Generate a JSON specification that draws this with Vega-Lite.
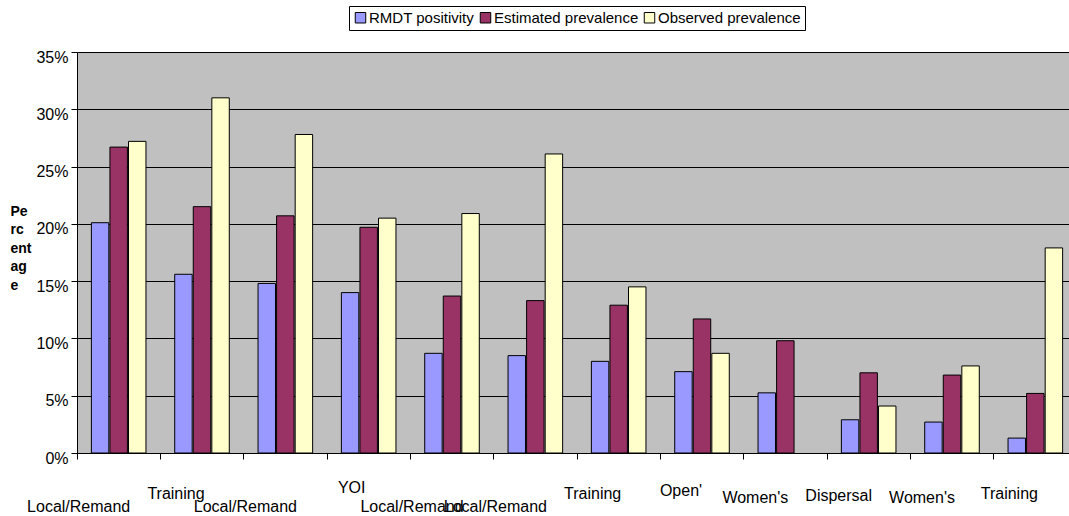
{
  "$schema": "https://vega.github.io/schema/vega-lite/v6.json",
  "width": 992,
  "height": 401,
  "autosize": {"type": "none"},
  "padding": {"left": 77, "top": 52, "right": 0, "bottom": 63},
  "background": "white",
  "config": {
    "font": "Liberation Sans",
    "view": {"fill": "#C0C0C0", "stroke": null}
  },
  "data": {
    "values": [
      {"site": "01 Local/Remand", "measure": "RMDT positivity", "value": 0.201},
      {"site": "01 Local/Remand", "measure": "Estimated prevalence", "value": 0.267},
      {"site": "01 Local/Remand", "measure": "Observed prevalence", "value": 0.272},
      {"site": "02 Training", "measure": "RMDT positivity", "value": 0.156},
      {"site": "02 Training", "measure": "Estimated prevalence", "value": 0.215},
      {"site": "02 Training", "measure": "Observed prevalence", "value": 0.31},
      {"site": "03 Local/Remand", "measure": "RMDT positivity", "value": 0.148},
      {"site": "03 Local/Remand", "measure": "Estimated prevalence", "value": 0.207},
      {"site": "03 Local/Remand", "measure": "Observed prevalence", "value": 0.278},
      {"site": "04 YOI", "measure": "RMDT positivity", "value": 0.14},
      {"site": "04 YOI", "measure": "Estimated prevalence", "value": 0.197},
      {"site": "04 YOI", "measure": "Observed prevalence", "value": 0.205},
      {"site": "05 Local/Remand", "measure": "RMDT positivity", "value": 0.087},
      {"site": "05 Local/Remand", "measure": "Estimated prevalence", "value": 0.137},
      {"site": "05 Local/Remand", "measure": "Observed prevalence", "value": 0.209},
      {"site": "06 Local/Remand", "measure": "RMDT positivity", "value": 0.085},
      {"site": "06 Local/Remand", "measure": "Estimated prevalence", "value": 0.133},
      {"site": "06 Local/Remand", "measure": "Observed prevalence", "value": 0.261},
      {"site": "07 Training", "measure": "RMDT positivity", "value": 0.08},
      {"site": "07 Training", "measure": "Estimated prevalence", "value": 0.129},
      {"site": "07 Training", "measure": "Observed prevalence", "value": 0.145},
      {"site": "08 Open'", "measure": "RMDT positivity", "value": 0.071},
      {"site": "08 Open'", "measure": "Estimated prevalence", "value": 0.117},
      {"site": "08 Open'", "measure": "Observed prevalence", "value": 0.087},
      {"site": "09 Women's", "measure": "RMDT positivity", "value": 0.0525},
      {"site": "09 Women's", "measure": "Estimated prevalence", "value": 0.098},
      {"site": "10 Dispersal", "measure": "RMDT positivity", "value": 0.029},
      {"site": "10 Dispersal", "measure": "Estimated prevalence", "value": 0.07},
      {"site": "10 Dispersal", "measure": "Observed prevalence", "value": 0.041},
      {"site": "11 Women's", "measure": "RMDT positivity", "value": 0.027},
      {"site": "11 Women's", "measure": "Estimated prevalence", "value": 0.068},
      {"site": "11 Women's", "measure": "Observed prevalence", "value": 0.076},
      {"site": "12 Training", "measure": "RMDT positivity", "value": 0.013},
      {"site": "12 Training", "measure": "Estimated prevalence", "value": 0.052},
      {"site": "12 Training", "measure": "Observed prevalence", "value": 0.179}
    ]
  },
  "mark": {"type": "bar", "stroke": "black", "strokeWidth": 1},
  "encoding": {
    "x": {
      "field": "site",
      "type": "nominal",
      "sort": null,
      "scale": {"range": [0, 1000], "paddingInner": 0.345, "paddingOuter": 0.1725},
      "axis": {
        "title": null,
        "bandPosition": -0.263,
        "grid": false,
        "domainColor": "black",
        "tickColor": "black",
        "tickSize": 6,
        "labelAngle": 0,
        "labelAlign": "center",
        "labelBaseline": "alphabetic",
        "labelFontSize": 16,
        "labelColor": "black",
        "labelOverlap": false,
        "labelBound": false,
        "labelLimit": 0,
        "labelExpr": "substring(datum.value, 3)",
        "labelOffset": {
          "condition": [
            {"test": "indexof(datum.value, 'Local/Remand') >= 0", "value": -40},
            {"test": "indexof(datum.value, 'Training') >= 0", "value": -26},
            {"test": "indexof(datum.value, 'YOI') >= 0", "value": -17},
            {"test": "indexof(datum.value, 'Open') >= 0", "value": -21}
          ],
          "value": -30
        },
        "labelPadding": {
          "condition": [
            {"test": "indexof(datum.value, 'Local/Remand') >= 0", "value": 52},
            {"test": "indexof(datum.value, 'Training') >= 0", "value": 39},
            {"test": "indexof(datum.value, 'YOI') >= 0", "value": 33},
            {"test": "indexof(datum.value, 'Open') >= 0", "value": 36},
            {"test": "indexof(datum.value, 'Dispersal') >= 0", "value": 41}
          ],
          "value": 43
        }
      }
    },
    "xOffset": {
      "field": "measure",
      "type": "nominal",
      "sort": ["RMDT positivity", "Estimated prevalence", "Observed prevalence"],
      "scale": {"paddingInner": 0.06, "paddingOuter": 0}
    },
    "y": {
      "field": "value",
      "type": "quantitative",
      "scale": {"domain": [0, 0.35], "nice": false},
      "axis": {
        "title": ["Pe", "rc", "ent", "ag", "e"],
        "titleAngle": 0,
        "titleAlign": "left",
        "titleBaseline": "alphabetic",
        "titleX": -67,
        "titleY": 163,
        "titleFontSize": 14,
        "titleFontWeight": "bold",
        "titleLineHeight": 18.5,
        "titleColor": "black",
        "values": [0, 0.05, 0.1, 0.15, 0.2, 0.25, 0.3, 0.35],
        "format": ".0%",
        "labelFontSize": 16,
        "labelColor": "black",
        "labelPadding": 3,
        "labelOffset": 5,
        "tickSize": 6,
        "tickColor": "black",
        "domainColor": "black",
        "grid": true,
        "gridColor": "black",
        "gridOpacity": 1,
        "gridWidth": 1
      }
    },
    "fill": {
      "field": "measure",
      "type": "nominal",
      "scale": {
        "domain": ["RMDT positivity", "Estimated prevalence", "Observed prevalence"],
        "range": ["#9999FF", "#993366", "#FFFFCC"]
      },
      "legend": {
        "title": null,
        "orient": "none",
        "legendX": 272,
        "legendY": -46,
        "direction": "horizontal",
        "fillColor": "white",
        "strokeColor": "black",
        "padding": 4,
        "columnPadding": 3,
        "symbolType": "square",
        "symbolSize": 110,
        "symbolStrokeColor": "black",
        "symbolStrokeWidth": 1,
        "symbolOpacity": 1,
        "labelFontSize": 15,
        "labelOffset": 1,
        "labelColor": "black"
      }
    }
  }
}
